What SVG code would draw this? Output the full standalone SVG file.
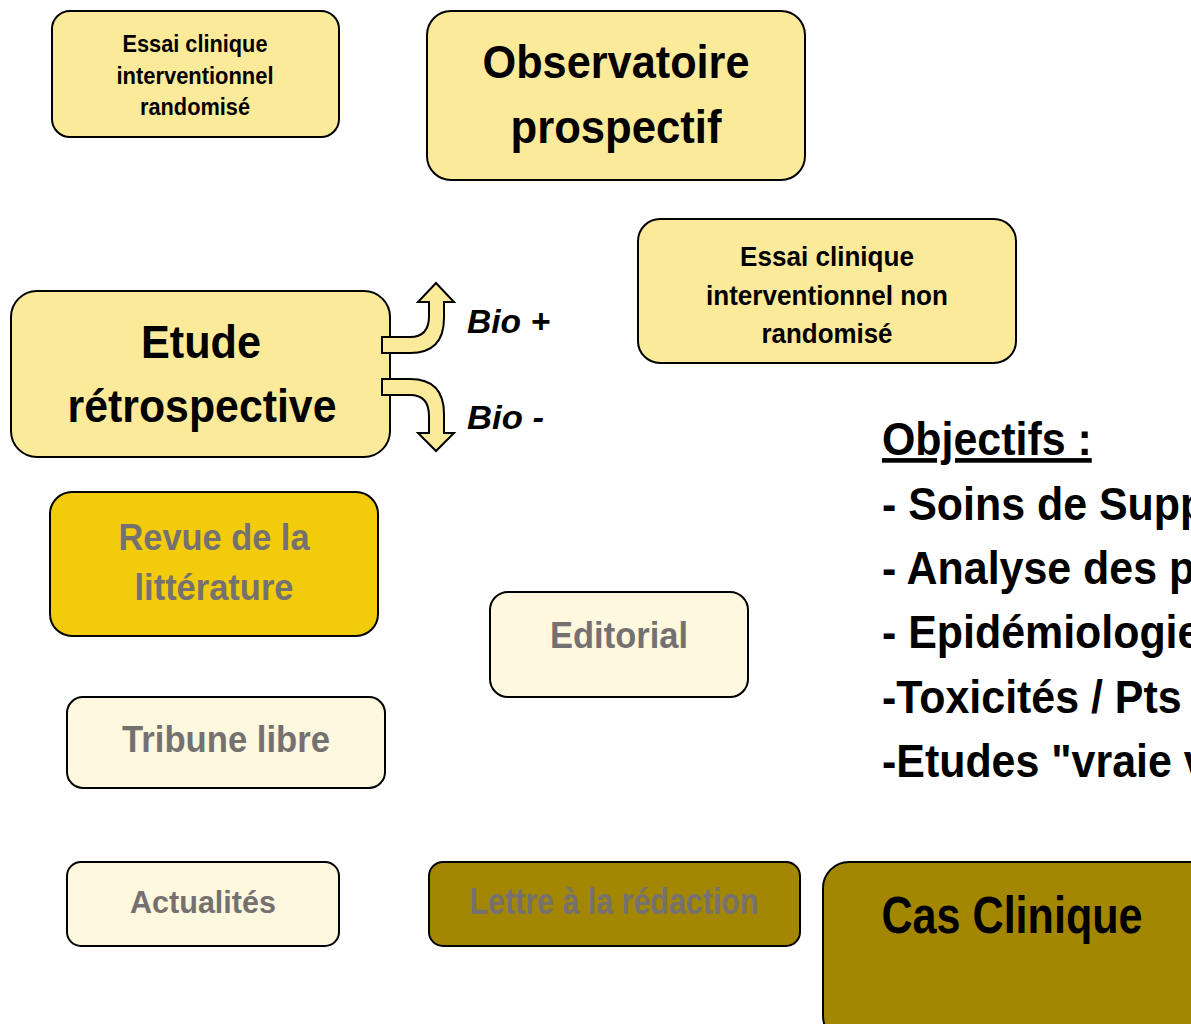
<svg xmlns="http://www.w3.org/2000/svg" width="1191" height="1024" viewBox="0 0 1191 1024">
<style>
.box{stroke:#000;stroke-width:2}
.lt{fill:#FCEA9B}
.pale{fill:#FEF8DE}
.gold{fill:#F2CC0A}
.olive{fill:#A38602}
text{font-family:"Liberation Sans","Arial",sans-serif;font-weight:bold;text-anchor:middle}
.blk{fill:#000}
.gry{fill:#767171}
.obj{text-anchor:start;font-size:46px}
</style>
<rect width="1191" height="1024" fill="#fff"/>
<g id="essai-randomise"><rect class="box lt" x="52" y="11" width="287" height="126" rx="18"/>
<g class="blk" font-size="23">
<text x="195" y="52" textLength="145" lengthAdjust="spacingAndGlyphs">Essai clinique</text>
<text x="195" y="84" textLength="157" lengthAdjust="spacingAndGlyphs">interventionnel</text>
<text x="195" y="115" textLength="110" lengthAdjust="spacingAndGlyphs">randomisé</text></g></g>
<g id="observatoire"><rect class="box lt" x="427" y="11" width="378" height="169" rx="24"/>
<g class="blk" font-size="46">
<text x="616" y="78" textLength="267" lengthAdjust="spacingAndGlyphs">Observatoire</text>
<text x="616" y="143" textLength="211" lengthAdjust="spacingAndGlyphs">prospectif</text></g></g>
<g id="essai-non-randomise"><rect class="box lt" x="638" y="219" width="378" height="144" rx="22"/>
<g class="blk" font-size="27">
<text x="827" y="266" textLength="174" lengthAdjust="spacingAndGlyphs">Essai clinique</text>
<text x="827" y="305" textLength="242" lengthAdjust="spacingAndGlyphs">interventionnel non</text>
<text x="827" y="343" textLength="131" lengthAdjust="spacingAndGlyphs">randomisé</text></g></g>
<g id="etude-retrospective"><rect class="box lt" x="11" y="291" width="379" height="166" rx="26"/>
<g class="blk" font-size="46">
<text x="201" y="358" textLength="120" lengthAdjust="spacingAndGlyphs">Etude</text>
<text x="202" y="422" textLength="269" lengthAdjust="spacingAndGlyphs">rétrospective</text></g></g>
<g id="connectors">
<path class="box lt" d="M382,337 L410,337 Q429,337 429,316 L429,302 L418,302 L436,283 L454,302 L444,302 L444,318 Q444,353 410,353 L382,353 Z"/>
<path class="box lt" d="M382,379 L410,379 Q444,379 444,414 L444,433 L454,433 L436,451 L418,433 L429,433 L429,416 Q429,395 410,395 L382,395 Z"/>
<text class="blk" font-size="34" font-style="italic" style="text-anchor:start" x="467" y="333" textLength="83" lengthAdjust="spacingAndGlyphs">Bio +</text>
<text class="blk" font-size="34" font-style="italic" style="text-anchor:start" x="467" y="429" textLength="77" lengthAdjust="spacingAndGlyphs">Bio -</text>
</g>
<g id="revue"><rect class="box gold" x="50" y="492" width="328" height="144" rx="22"/>
<g class="gry" font-size="37">
<text x="214" y="550" textLength="191" lengthAdjust="spacingAndGlyphs">Revue de la</text>
<text x="214" y="600" textLength="159" lengthAdjust="spacingAndGlyphs">littérature</text></g></g>
<g id="editorial"><rect class="box pale" x="490" y="592" width="258" height="105" rx="18"/>
<text class="gry" font-size="37" x="619" y="648" textLength="138" lengthAdjust="spacingAndGlyphs">Editorial</text></g>
<g id="tribune"><rect class="box pale" x="67" y="697" width="318" height="91" rx="16"/>
<text class="gry" font-size="37" x="226" y="752" textLength="208" lengthAdjust="spacingAndGlyphs">Tribune libre</text></g>
<g id="actualites"><rect class="box pale" x="67" y="862" width="272" height="84" rx="14"/>
<text class="gry" font-size="32" x="203" y="913" textLength="146" lengthAdjust="spacingAndGlyphs">Actualités</text></g>
<g id="lettre"><rect class="box olive" x="429" y="862" width="371" height="84" rx="14"/>
<text class="gry" font-size="37" x="614" y="914" textLength="289" lengthAdjust="spacingAndGlyphs">Lettre à la rédaction</text></g>
<g id="cas-clinique"><rect class="box olive" x="823" y="862" width="400" height="180" rx="26"/>
<text class="blk" font-size="52" x="1012" y="933" textLength="261" lengthAdjust="spacingAndGlyphs">Cas Clinique</text></g>
<g id="objectifs" transform="translate(882,0) scale(0.933,1)">
<text class="blk obj" x="0" y="455" text-decoration="underline">Objectifs :</text>
<text class="blk obj" x="0" y="520">- Soins de Support</text>
<text class="blk obj" x="0" y="584">- Analyse des pratiques</text>
<text class="blk obj" x="0" y="648">- Epidémiologie</text>
<text class="blk obj" x="0" y="713">-Toxicités / Pts</text>
<text class="blk obj" x="0" y="777">-Etudes "vraie vie"</text>
</g>
</svg>
